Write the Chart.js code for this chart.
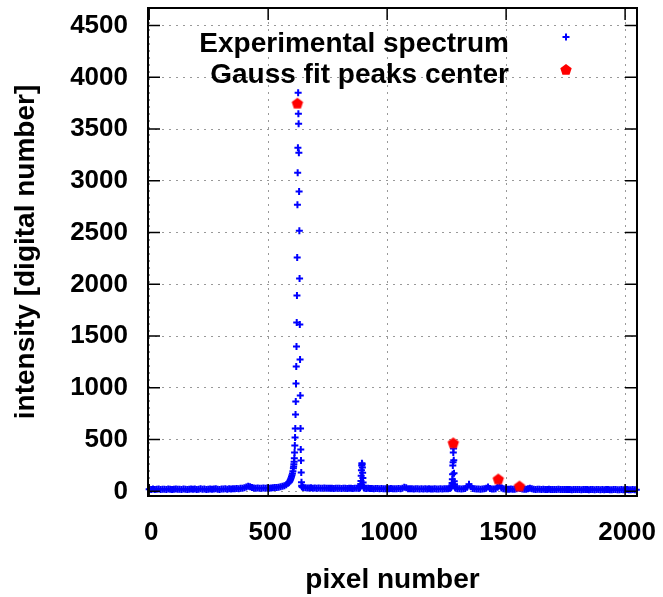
<!DOCTYPE html>
<html>
<head>
<meta charset="utf-8">
<title>Spectrum</title>
<script src="https://cdn.jsdelivr.net/npm/chart.js@4/dist/chart.umd.min.js"></script>
<style>
    html, body { margin: 0; padding: 0; background: #fff; }
    #wrap { width: 663px; height: 597px; }
</style>
</head>
<body>
<div id="wrap"><canvas id="spectrumChart" width="663" height="597"></canvas></div>
<script>
// Experimental spectrum as [pixel, intensity]
const baselineLeft = [
    [0,21],[8,19],[16,22],[24,18],[32,20],[40,23],[48,19],[56,21],[64,20],[72,18],[80,22],[88,20],[96,19],[104,21],[112,23],[120,20],
    [128,21],[136,19],[144,22],[152,20],[160,18],[168,21],[176,23],[184,20],[192,22],[200,19],[208,21],[216,24],[224,20],[232,22],[240,19],[248,21],
    [256,23],[264,20],[272,22],[280,24],[288,21],[296,19],[304,23],[312,22],[320,25],[328,21],[336,24],[344,23],[352,26],[360,24],[368,27],[376,25],
    [384,29],[392,31],[400,35],[408,42],[416,48],[424,44],[432,36],[440,32],[448,30],[456,33],[464,31],[472,29],[480,32],[488,30],[496,33],[504,31],
    [512,32],[520,34],[528,36],[536,38],[544,40],[552,44],[560,48],[568,55],[576,64],[584,78]
];
const mainPeak = [
    [588,88],[590,95],[592,104],[594,115],[596,126],[598,140],[600,155],[602,172],[604,195],[606,222],[607,240],[608,262],[609,285],
    [610,320],[611,376],[612,444],[613,521],[614,608],[615,743],[616,869],[617,1042],[618,1206],[619,1400],[620,1631],[621,1892],
    [622,2259],[623,2770],[624,3079],[625,3320],[626,3851],[627,3649],[628,3552],[629,3272],[630,2896],[631,2519],[632,2056],
    [633,1612],[634,1274],[635,927],[636,608],[637,405],[638,299],[639,183],[640,87],[641,55],[642,46],[644,42],[646,40]
];
const baselineMid = [
    [648,38],[656,35],[664,33],[672,32],[680,34],[688,31],[696,33],[704,30],[712,32],[720,31],[728,29],[736,32],[744,30],[752,31],[760,29],[768,30],
    [776,28],[784,31],[792,29],[800,30],[808,28],[816,29],[824,31],[832,28],[840,30],[848,29],[856,27],[864,30],[872,29],[880,31]
];
const peak893 = [
    [884,33],[886,38],[888,52],[889,70],[890,100],[891,150],[892,205],[893,250],[894,272],[895,262],[896,230],[897,180],[898,128],[899,85],[900,55],[902,38]
];
const baselineCenter = [
    [904,30],[912,28],[920,29],[928,27],[936,28],[944,26],[952,28],[960,27],[968,25],[976,27],[984,26],[992,24],[1000,26],[1008,25],[1016,27],[1024,24],
    [1032,26],[1040,25],[1048,27],[1056,26],[1064,30],[1072,40],[1080,34],[1088,26],[1096,24],[1104,25],[1112,23],[1120,25],[1128,24],[1136,22],[1144,24],[1152,23],
    [1160,25],[1168,22],[1176,24],[1184,23],[1192,22],[1200,24],[1208,23],[1216,22],[1224,24],[1232,23],[1240,25],[1248,24],[1256,26],[1264,30]
];
const peak1278 = [
    [1268,35],[1270,45],[1272,60],[1273,80],[1274,116],[1275,164],[1276,250],[1277,280],[1278,376],[1279,415],[1280,300],[1281,174],[1282,97],[1283,68],[1284,48],[1286,36]
];
const baselineRight = [
    [1288,30],[1296,26],[1304,24],[1312,23],[1320,25],[1328,28],[1336,40],[1344,68],[1352,45],[1360,28],[1368,24],[1376,22],[1384,23],[1392,21],[1400,22],[1408,24],
    [1416,30],[1424,42],[1432,28],[1440,22],[1448,23],[1456,26],[1464,40],[1472,55],[1480,32],[1488,24],[1496,22],[1504,21],[1512,20],[1520,22],[1528,21],[1536,20],
    [1544,24],[1552,32],[1560,28],[1568,22],[1576,20],[1584,21],[1592,24],[1600,30],[1608,25],[1616,20],[1624,19],[1632,21],[1640,20],[1648,18],[1656,20],[1664,19],
    [1672,18],[1680,20],[1688,19],[1696,17],[1704,19],[1712,18],[1720,20],[1728,17],[1736,19],[1744,18],[1752,17],[1760,19],[1768,18],[1776,16],[1784,18],[1792,17],
    [1800,19],[1808,17],[1816,16],[1824,18],[1832,17],[1840,19],[1848,16],[1856,18],[1864,17],[1872,16],[1880,18],[1888,17],[1896,15],[1904,17],[1912,16],[1920,18],
    [1928,17],[1936,15],[1944,16],[1952,18],[1960,17],[1968,15],[1976,16],[1984,17],[1992,15],[2000,16],[2008,17],[2016,15],[2024,16],[2032,17],[2040,15],[2047,16]
];

// Gauss fit peak centers
const fitPixel = [623, 1278, 1467, 1556];
const fitIntensity = [3745, 463, 114, 46];

// Axis ticks
const xTicks = [0, 500, 1000, 1500, 2000];
const yTicks = [0, 500, 1000, 1500, 2000, 2500, 3000, 3500, 4000, 4500];

const legendLabels = ['Experimental spectrum', 'Gauss fit peaks center'];

const BLUE = '#0000ff';
const RED = '#ff0000';
const FONT = 'Liberation Sans';

Chart.defaults.font.family = FONT;
Chart.defaults.color = '#000';

// filled pentagon marker (gnuplot style)
function makePentagon(r, color) {
    const c = document.createElement('canvas');
    c.width = c.height = 2 * r + 2;
    const g = c.getContext('2d');
    g.fillStyle = color;
    g.beginPath();
    for (let i = 0; i < 5; i++) {
        const a = -Math.PI / 2 + i * 2 * Math.PI / 5;
        g.lineTo(r + 1 + r * Math.cos(a), r + 1 + r * Math.sin(a));
    }
    g.closePath();
    g.fill();
    return c;
}
const pentagon = makePentagon(6, RED);

function drawCross(ctx, x, y) {
    ctx.save();
    ctx.strokeStyle = BLUE;
    ctx.lineWidth = 2;
    ctx.beginPath();
    ctx.moveTo(x - 3.5, y); ctx.lineTo(x + 3.5, y);
    ctx.moveTo(x, y - 3.5); ctx.lineTo(x, y + 3.5);
    ctx.stroke();
    ctx.restore();
}

// frame, inward tics and key box
const framePlugin = {
    id: 'frame',
    afterDraw(chart) {
        const { ctx, chartArea: a, scales: { x, y } } = chart;
        ctx.save();
        ctx.strokeStyle = '#000';
        ctx.lineWidth = 1.5;
        ctx.beginPath();
        x.ticks.forEach(t => {
            const px = x.getPixelForValue(t.value);
            ctx.moveTo(px, a.bottom); ctx.lineTo(px, a.bottom - 12);
            ctx.moveTo(px, a.top); ctx.lineTo(px, a.top + 12);
        });
        y.ticks.forEach(t => {
            const py = y.getPixelForValue(t.value);
            ctx.moveTo(a.left, py); ctx.lineTo(a.left + 12, py);
            ctx.moveTo(a.right, py); ctx.lineTo(a.right - 12, py);
        });
        ctx.stroke();
        ctx.lineWidth = 2;
        ctx.strokeRect(a.left, a.top, a.right - a.left, a.bottom - a.top);

        // legend
        ctx.fillStyle = '#000';
        ctx.font = 'bold 28px "' + FONT + '"';
        ctx.textAlign = 'right';
        ctx.textBaseline = 'alphabetic';
        ctx.fillText(legendLabels[0], 509, 52);
        ctx.fillText(legendLabels[1], 509, 83);
        drawCross(ctx, 566, 37);
        ctx.drawImage(pentagon, 566 - pentagon.width / 2, 70 - pentagon.height / 2);
        ctx.restore();
    }
};

const spectrum = [].concat(baselineLeft, mainPeak, baselineMid, peak893, baselineCenter, peak1278, baselineRight)
    .map(([px, v]) => ({ x: px, y: v }));
const fitPoints = fitPixel.map((px, i) => ({ x: px, y: fitIntensity[i] }));

new Chart(document.getElementById('spectrumChart'), {
    type: 'scatter',
    data: {
        datasets: [{
            label: legendLabels[0],
            data: spectrum,
            showLine: false,
            pointStyle: 'cross',
            pointRadius: 3.5,
            pointBorderWidth: 2,
            pointBorderColor: BLUE,
            borderColor: BLUE,
            backgroundColor: BLUE,
            clip: false,
            order: 1
        }, {
            label: legendLabels[1],
            data: fitPoints,
            showLine: false,
            pointStyle: pentagon,
            pointRadius: 6,
            borderColor: RED,
            backgroundColor: RED,
            clip: false,
            order: 0
        }]
    },
    options: {
        responsive: false,
        animation: false,
        events: [],
        layout: { padding: { top: 8, right: 26, bottom: 0, left: 0 } },
        plugins: {
            legend: { display: false },
            tooltip: { enabled: false }
        },
        scales: {
            x: {
                type: 'linear',
                min: -5,
                max: 2050,
                afterBuildTicks: s => { s.ticks = xTicks.map(v => ({ value: v })); },
                afterFit: s => { s.height = 101; s.paddingLeft = 0; s.paddingRight = 0; },
                ticks: {
                    callback: v => String(v),
                    font: { size: 26, weight: 'bold' },
                    color: '#000',
                    padding: 21,
                    labelOffset: 2,
                    maxRotation: 0,
                    autoSkip: false
                },
                grid: { color: '#999', lineWidth: 1, drawTicks: false },
                border: { display: false, dash: [2, 5] },
                title: {
                    display: true,
                    text: 'pixel number',
                    font: { size: 28, weight: 'bold' },
                    color: '#000',
                    padding: { top: 0, bottom: 0 }
                }
            },
            y: {
                type: 'linear',
                min: -45,
                max: 4670,
                afterBuildTicks: s => { s.ticks = yTicks.map(v => ({ value: v })); },
                afterFit: s => { s.width = 148; s.paddingTop = 0; s.paddingBottom = 0; },
                ticks: {
                    callback: v => String(v),
                    font: { size: 26, weight: 'bold' },
                    color: '#000',
                    padding: 20,
                    autoSkip: false
                },
                grid: { color: '#999', lineWidth: 1, drawTicks: false },
                border: { display: false, dash: [2, 5] },
                title: {
                    display: true,
                    text: 'intensity [digital number]',
                    font: { size: 28, weight: 'bold' },
                    color: '#000',
                    padding: { top: 9, bottom: 0 }
                }
            }
        }
    },
    plugins: [framePlugin]
});
</script>
</body>
</html>
